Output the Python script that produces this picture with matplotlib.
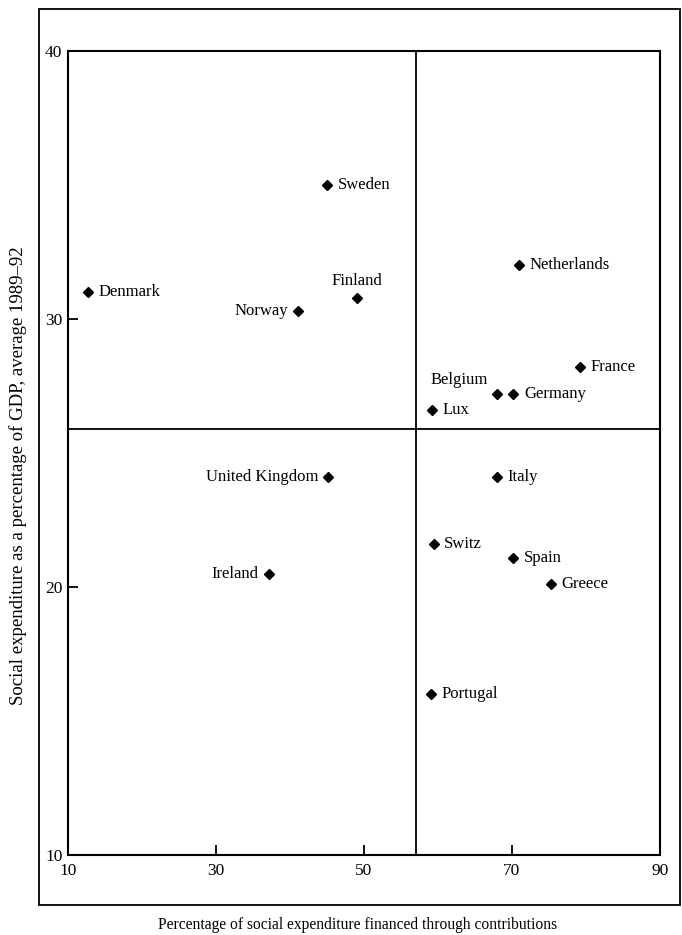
import matplotlib.pyplot as plt
from matplotlib.patches import Rectangle

plt.rcParams['font.family'] = ['Liberation Serif', 'DejaVu Serif']

countries = ['Denmark', 'Sweden', 'Norway', 'Finland', 'Netherlands', 'France',
             'Belgium', 'Germany', 'Lux', 'United Kingdom', 'Italy', 'Switz',
             'Spain', 'Greece', 'Ireland', 'Portugal']
contrib = [12.7, 45.0, 41.1, 49.1, 71.0, 79.2, 68.0, 70.2, 59.2, 45.2, 68.0,
           59.4, 70.2, 75.3, 37.2, 59.1]
spending = [31.0, 35.0, 30.3, 30.8, 32.0, 28.2, 27.2, 27.2, 26.6, 24.1, 24.1,
            21.6, 21.1, 20.1, 20.5, 16.0]
# where the label sits relative to the marker
label_pos = ['right', 'right', 'left', 'above', 'right', 'right', 'aboveleft',
             'right', 'right', 'left', 'right', 'right', 'right', 'right',
             'left', 'right']

x_split = 57.0
y_split = 25.9

fig = plt.figure(figsize=(6.82, 9.35), dpi=100)
ax = fig.add_axes([68 / 682, 1 - 855 / 935, 592 / 682, 804 / 935])

ax.plot(contrib, spending, 'D', color='black', markersize=5.5, linestyle='none')

fs = 12
for name, x, y, pos in zip(countries, contrib, spending, label_pos):
    if pos == 'right':
        ax.annotate(name, (x, y), xytext=(7.5, 0), textcoords='offset points',
                    ha='left', va='center', fontsize=fs)
    elif pos == 'left':
        ax.annotate(name, (x, y), xytext=(-7.5, 0), textcoords='offset points',
                    ha='right', va='center', fontsize=fs)
    elif pos == 'above':
        ax.annotate(name, (x, y), xytext=(0, 6), textcoords='offset points',
                    ha='center', va='bottom', fontsize=fs)
    else:
        ax.annotate(name, (x, y), xytext=(-7, 4), textcoords='offset points',
                    ha='right', va='bottom', fontsize=fs)

ax.axvline(x_split, color='black', linewidth=1.3)
ax.axhline(y_split, color='black', linewidth=1.3)

ax.set_xlim(10, 90)
ax.set_ylim(10, 40)
ax.set_xticks([10, 30, 50, 70, 90])
ax.set_yticks([10, 20, 30, 40])
ax.tick_params(direction='in', length=7, width=1.3, labelsize=12.5)
ax.tick_params(axis='x', pad=6)
ax.tick_params(axis='y', pad=4)
for s in ax.spines.values():
    s.set_linewidth(1.5)

fig.text(358 / 682, 1 - 925 / 935,
         'Percentage of social expenditure financed through contributions',
         ha='center', va='center', fontsize=11.2)
fig.text(18 / 682, 1 - 476 / 935,
         'Social expenditure as a percentage of GDP, average 1989\u201392',
         ha='center', va='center', rotation=90, fontsize=13.5)

fig.patches.append(Rectangle((39 / 682, 1 - 905 / 935), 641 / 682, 896 / 935,
                             transform=fig.transFigure, fill=False,
                             edgecolor='black', linewidth=1.3))

fig.savefig('out.png', dpi=100)
